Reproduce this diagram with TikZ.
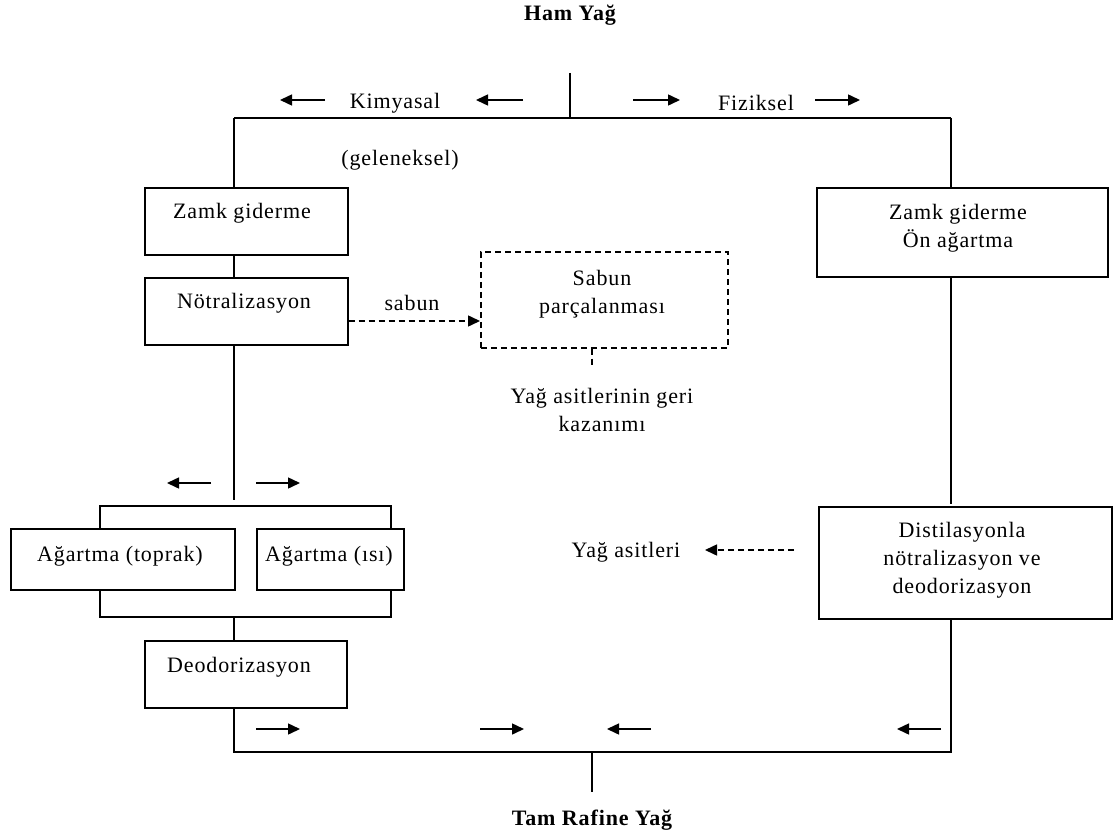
\documentclass[tikz,border=0pt]{standalone}
\usepackage{fontspec}
\setmainfont{Liberation Serif}[LetterSpace=4]
\usetikzlibrary{arrows.meta,calc}
\begin{document}
\begin{tikzpicture}[x=1pt,y=-1pt,
  every node/.style={font=\fontsize{22}{28}\selectfont, inner sep=0pt},
  stage/.style={draw, line width=1.5pt, anchor=north west},
  dstage/.style={draw, line width=1.5pt, anchor=north west, dash pattern=on 6pt off 4pt},
  txt/.style={align=center},
  heading/.style={font=\fontsize{22}{24}\selectfont\bfseries},
  conn/.style={line width=1.5pt},
  flow/.style={line width=1.5pt, -{Triangle[length=12pt,width=11pt]}},
  dconn/.style={line width=1.5pt, dash pattern=on 6pt off 4pt},
  dflow/.style={dconn, -{Triangle[length=12pt,width=11pt]}}]
\useasboundingbox (0,0) rectangle (1113,840);

% column guides
\coordinate (L) at (234,0);
\coordinate (R) at (951,0);
\coordinate (B) at (0,752);

% headings
\node[heading] (ham) at (570,15) {Ham Yağ};
\node[heading] (tam) at (592,820) {Tam Rafine Yağ};
\coordinate (top) at (570,73);
\coordinate (split) at (570,118);
\coordinate (merge) at (592,752);
\coordinate (outlet) at (592,792);

% chemical route
\node[stage, minimum width=203pt, minimum height=67pt] (zg) at (144,187) {};
\node[txt] (zgt) at (242,213) {Zamk giderme};
\node[stage, minimum width=203pt, minimum height=67pt] (nt) at (144,277) {};
\node[txt] (ntt) at (244,303) {Nötralizasyon};
\node[txt] (gel) at (400,160) {(geleneksel)};
\node[txt] (kim) at (395,103) {Kimyasal};

\node[dstage, minimum width=247pt, minimum height=96pt] (sab) at (480,251) {};
\node[txt] (sabt) at (602,294) {Sabun\\parçalanması};
\node[txt] (geri) at (602,410) {Yağ asitlerinin geri\\kazanımı};
\node[txt] (sabun) at (412,303) {sabun};

\node[stage, minimum width=224pt, minimum height=61pt] (at) at (10,528) {};
\node[txt] (att) at (120,556) {Ağartma (toprak)};
\node[stage, minimum width=147pt, minimum height=61pt] (ai) at (256,528) {};
\node[txt] (ait) at (329,556) {Ağartma (ısı)};
\node[stage, minimum width=202pt, minimum height=67pt] (deo) at (144,640) {};
\node[txt] (deot) at (239,667) {Deodorizasyon};

% physical route
\node[txt] (fiz) at (756,103) {Fiziksel};
\node[stage, minimum width=291pt, minimum height=89pt] (zo) at (816,187) {};
\node[txt] (zot) at (958,228) {Zamk giderme\\Ön ağartma};
\node[stage, minimum width=293pt, minimum height=112pt] (dis) at (818,506) {};
\node[txt] (dist) at (962,560) {Distilasyonla\\nötralizasyon ve\\deodorizasyon};
\node[txt] (yas) at (626,552) {Yağ asitleri};

% main lines
\draw[conn] (top) -- (split);
\draw[conn] (split -| L) -- (split -| R);
\draw[conn] (split -| L) -- (zg.north -| L);
\draw[conn] (zg.south -| L) -- (nt.north -| L);
\coordinate (fork) at (234,500);
\draw[conn] (nt.south -| L) -- (fork);
\draw[conn] (at.north -| 100,0) -- (100,506) -- (391,506) -- (ai.north -| 391,0);
\draw[conn] (at.south -| 100,0) -- (100,617) -- (391,617) -- (ai.south -| 391,0);
\draw[conn] (234,617) -- (deo.north -| L);
\draw[conn] (deo.south -| L) -- (B -| L) -- (B -| R) -- (dis.south -| R);
\draw[conn] (merge) -- (outlet);

\draw[conn] (split -| R) -- (zo.north -| R);
\draw[conn] (zo.south -| R) -- ($(dis.north -| R)+(0,-2)$);

% side streams
\draw[dflow] (nt.east |- 0,321) -- (sab.west |- 0,321);
\draw[dconn] (sab.south -| 592,0) -- (592,368);
\coordinate (acid) at (705,550);
\coordinate (distout) at (794,550);
\draw[dflow] (distout) -- (acid);

% direction arrows
\draw[flow] (325,100) -- (280,100);
\draw[flow] (523,100) -- (476,100);
\draw[flow] (633,100) -- (680,100);
\draw[flow] (815,100) -- (860,100);
\draw[flow] (211,483) -- (167,483);
\draw[flow] (256,483) -- (300,483);
\draw[flow] (256,729) -- (300,729);
\draw[flow] (480,729) -- (524,729);
\draw[flow] (651,729) -- (607,729);
\draw[flow] (941,729) -- (897,729);
\end{tikzpicture}
\end{document}
